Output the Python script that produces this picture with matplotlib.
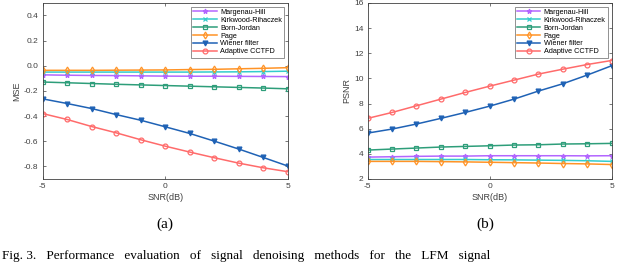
import matplotlib.pyplot as plt

plt.rcParams['font.family'] = ['Liberation Sans', 'DejaVu Sans']
plt.rcParams['axes.unicode_minus'] = False

snr = [-5, -4, -3, -2, -1, 0, 1, 2, 3, 4, 5]
names = ['Margenau-Hill', 'Kirkwood-Rihaczek', 'Born-Jordan', 'Page',
         'Wiener filter', 'Adaptive CCTFD']

mse_mh = [-0.072, -0.075, -0.077, -0.078, -0.080, -0.082, -0.083, -0.083, -0.084, -0.085, -0.086]
mse_kr = [-0.050, -0.050, -0.050, -0.050, -0.050, -0.050, -0.050, -0.049, -0.048, -0.046, -0.043]
mse_bj = [-0.129, -0.135, -0.141, -0.147, -0.152, -0.157, -0.162, -0.167, -0.172, -0.177, -0.183]
mse_pg = [-0.036, -0.036, -0.036, -0.035, -0.034, -0.033, -0.030, -0.028, -0.024, -0.020, -0.015]
mse_wf = [-0.263, -0.300, -0.340, -0.388, -0.433, -0.485, -0.538, -0.599, -0.662, -0.729, -0.797]
mse_ad = [-0.380, -0.427, -0.483, -0.533, -0.588, -0.639, -0.686, -0.731, -0.774, -0.811, -0.842]

psnr_mh = [3.74, 3.77, 3.80, 3.82, 3.82, 3.85, 3.85, 3.85, 3.85, 3.84, 3.85]
psnr_kr = [3.55, 3.55, 3.55, 3.55, 3.55, 3.53, 3.52, 3.50, 3.48, 3.45, 3.40]
psnr_bj = [4.30, 4.38, 4.46, 4.54, 4.59, 4.64, 4.70, 4.72, 4.78, 4.80, 4.83]
psnr_pg = [3.40, 3.40, 3.40, 3.38, 3.36, 3.33, 3.30, 3.27, 3.23, 3.20, 3.15]
psnr_wf = [5.65, 5.97, 6.37, 6.82, 7.29, 7.79, 8.35, 8.99, 9.57, 10.26, 11.00]
psnr_ad = [6.82, 7.29, 7.82, 8.35, 8.88, 9.38, 9.86, 10.34, 10.73, 11.10, 11.42]

colors = ['#b366ff', '#33cccc', '#2e9e7a', '#ff9326', '#1f62b5', '#ff6b6b']
markers = ['*', 'x', 's', 'd', 'v', 'o']
filled = [True, True, False, False, True, False]


def panel(ax, series, ylabel, ylim, yticks):
    for s, name, c, m, f in zip(series, names, colors, markers, filled):
        ax.plot(snr, s, color=c, marker=m, markersize=3.5, linewidth=1.1,
                markerfacecolor=c if f else 'none', markeredgewidth=0.9,
                label=name)
    ax.set_xlim(-5, 5)
    ax.set_ylim(*ylim)
    ax.set_xticks([-5, 0, 5])
    ax.set_yticks(yticks)
    ax.tick_params(direction='in', top=True, right=True, labelsize=6,
                   length=2.5, width=0.5, colors='#404040', pad=3)
    for sp in ax.spines.values():
        sp.set_linewidth(0.6)
        sp.set_color('#404040')
    ax.set_xlabel('SNR(dB)', fontsize=6.5, color='#404040', labelpad=2)
    ax.set_ylabel(ylabel, fontsize=6.5, color='#404040', labelpad=2)
    leg = ax.legend(loc='upper right', fontsize=5.2, frameon=True, fancybox=False,
                    edgecolor='#404040', borderpad=0.3, labelspacing=0.12,
                    handlelength=3.2, handletextpad=0.5, borderaxespad=0.5)
    leg.get_frame().set_linewidth(0.5)


fig = plt.figure(figsize=(6.4, 2.64), dpi=100)
ax1 = fig.add_axes([0.0667, 0.322, 0.383, 0.667])
ax2 = fig.add_axes([0.5745, 0.322, 0.381, 0.667])

panel(ax1, [mse_mh, mse_kr, mse_bj, mse_pg, mse_wf, mse_ad], 'MSE',
      (-0.9, 0.5), [-0.8, -0.6, -0.4, -0.2, 0, 0.2, 0.4])
panel(ax2, [psnr_mh, psnr_kr, psnr_bj, psnr_pg, psnr_wf, psnr_ad], 'PSNR',
      (2, 16), [2, 4, 6, 8, 10, 12, 14, 16])

fig.text(0.258, 1 - 224 / 264, '(a)', family='Liberation Serif', fontsize=11,
         ha='center', va='center')
fig.text(0.758, 1 - 224 / 264, '(b)', family='Liberation Serif', fontsize=11,
         ha='center', va='center')
fig.text(0.003, 0.008,
         'Fig. 3.   Performance   evaluation   of   signal   denoising   methods   for   the   LFM   signal',
         family='Liberation Serif', fontsize=9.5, ha='left', va='bottom')

fig.savefig('out.png', dpi=100)
